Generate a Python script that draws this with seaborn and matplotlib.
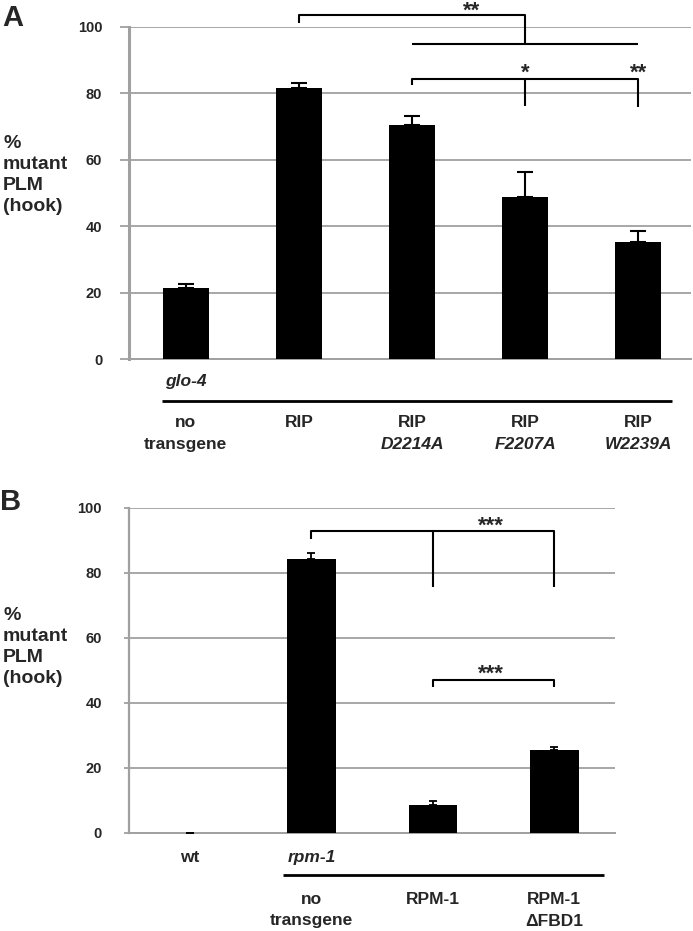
import matplotlib
matplotlib.use("Agg")
import matplotlib.pyplot as plt
import matplotlib.transforms as mtransforms
import seaborn as sns
import pandas as pd
import numpy as np

sns.set_theme(style="white")
plt.rcParams["font.family"] = ["Liberation Sans", "DejaVu Sans"]
plt.rcParams["font.weight"] = "bold"

# ---------------- data: panel A ----------------
a_line1 = ["no", "RIP", "RIP", "RIP", "RIP"]
a_line2 = ["transgene", "", "D2214A", "F2207A", "W2239A"]
a_line2_italic = [False, False, True, True, True]
a_genotype = ["glo-4", "", "", "", ""]
a_values = [21.5, 81.5, 70.4, 48.8, 35.2]
a_errors = [1.3, 1.7, 2.7, 7.5, 3.3]
a_yticks = [0, 20, 40, 60, 80, 100]

# ---------------- data: panel B ----------------
b_line1 = ["", "no", "RPM-1", "RPM-1"]
b_line2 = ["", "transgene", "", "\u0394FBD1"]
b_genotype = ["wt", "rpm-1", "", ""]
b_genotype_italic = [False, True, False, False]
b_values = [0.0, 84.2, 8.5, 25.4]
b_errors = [0.0, 1.8, 1.2, 1.0]
b_yticks = [0, 20, 40, 60, 80, 100]

W, H = 693, 931
fig = plt.figure(figsize=(W / 100, H / 100), dpi=100)

def fy(py):
    return 1 - py / H

GRID = "#a0a0a0"

def style_axes(ax, yticks, ticklen, pad, spine_lw):
    ax.set_ylim(0, 100)
    ax.set_yticks(yticks)
    ax.set_yticklabels([str(t) for t in yticks])
    ax.yaxis.grid(True, color=GRID, lw=1.3)
    ax.xaxis.grid(False)
    ax.set_axisbelow(True)
    for s in ["top", "right"]:
        ax.spines[s].set_visible(False)
    ax.spines["left"].set_color(GRID)
    ax.spines["left"].set_linewidth(spine_lw)
    ax.spines["bottom"].set_color(GRID)
    ax.spines["bottom"].set_linewidth(1.4)
    ax.tick_params(axis="x", length=0, labelbottom=False)
    ax.tick_params(axis="y", length=ticklen, width=1.3, color=GRID,
                   pad=pad, labelsize=10.5, left=True)
    ax.set_xlabel("")
    ax.set_ylabel("")

def draw_bars(ax, names, values, errors, width, capsize, elw):
    df = pd.DataFrame({"cond": names, "value": values})
    sns.barplot(data=df, x="cond", y="value", order=names, color="black",
                saturation=1, width=width, errorbar=None, ax=ax, zorder=3,
                edgecolor="black", linewidth=0)
    xs = np.arange(len(values))
    ax.errorbar(xs, values, yerr=[np.zeros(len(errors)), errors], fmt="none",
                ecolor="black", elinewidth=elw, capsize=capsize, capthick=elw,
                zorder=4)

def bracket(ax, pts, lw=1.5):
    xs, ys = zip(*pts)
    ax.plot(xs, ys, color="black", lw=lw, clip_on=False, solid_capstyle="butt",
            zorder=5)

STAR = 16

# ================= Panel A =================
axA = fig.add_axes([129.3 / W, fy(359.3), (691.3 - 129.3) / W, (359.3 - 27) / H])
a_names = [(l1 + " " + l2).strip() for l1, l2 in zip(a_line1, a_line2)]
draw_bars(axA, a_names, a_values, a_errors, 0.41, 5.8, 1.5)
style_axes(axA, a_yticks, 6.5, 13, 2.2)
axA.set_xlim(-0.5, 4.47)

# significance brackets A
bracket(axA, [(1, 101.3), (1, 103.5), (3, 103.5), (3, 95.0)])
bracket(axA, [(2, 95.0), (4, 95.0)])
axA.text(2.53, 103.2, "**", ha="center", va="baseline", fontsize=STAR,
         clip_on=False)
bracket(axA, [(2, 82.5), (2, 84.35), (4, 84.35), (4, 76.0)])
bracket(axA, [(3, 84.35), (3, 76.2)])
axA.text(3, 84.3, "*", ha="center", va="baseline", fontsize=STAR, clip_on=False)
axA.text(4, 84.3, "**", ha="center", va="baseline", fontsize=STAR, clip_on=False)

tA = mtransforms.blended_transform_factory(axA.transData, fig.transFigure)
for i, g in enumerate(a_genotype):
    if g:
        axA.text(i, fy(381.7), g, transform=tA, ha="center", va="center",
                 fontsize=12.5, style="italic")
axA.plot([-0.21, 4.3], [fy(401), fy(401)], transform=tA, color="black",
         lw=2, clip_on=False, solid_capstyle="butt")
for i, (l1, l2, it) in enumerate(zip(a_line1, a_line2, a_line2_italic)):
    axA.text(i, fy(422.7), l1, transform=tA, ha="center", va="center",
             fontsize=12.5)
    if l2:
        axA.text(i, fy(444.3), l2, transform=tA, ha="center", va="center",
                 fontsize=12.5, style="italic" if it else "normal")

fig.text(3 / W, fy(175), "%\nmutant\nPLM\n(hook)", ha="left", va="center",
         fontsize=14, linespacing=1.3)
fig.text(2 / W, fy(18.5), "A", ha="left", va="center", fontsize=21)

# ================= Panel B =================
axB = fig.add_axes([129.3 / W, fy(832.7), (615 - 129.3) / W, (832.7 - 507.7) / H])
b_names = [(g + " " + l1 + " " + l2).strip()
           for g, l1, l2 in zip(b_genotype, b_line1, b_line2)]
draw_bars(axB, b_names, b_values, b_errors, 0.4, 3.2, 1.3)
style_axes(axB, b_yticks, 3.6, 16, 1.6)
axB.set_xlim(-0.5, 3.5)

bracket(axB, [(1, 90.5), (1, 92.8), (3, 92.8), (3, 75.7)])
bracket(axB, [(2, 92.8), (2, 75.7)])
axB.text(2.48, 92.6, "***", ha="center", va="baseline", fontsize=STAR,
         clip_on=False)
bracket(axB, [(2, 44.7), (2, 47.0), (3, 47.0), (3, 44.7)])
axB.text(2.48, 47.1, "***", ha="center", va="baseline", fontsize=STAR,
         clip_on=False)

tB = mtransforms.blended_transform_factory(axB.transData, fig.transFigure)
for i, (g, it) in enumerate(zip(b_genotype, b_genotype_italic)):
    if g:
        axB.text(i, fy(857.7), g, transform=tB, ha="center", va="center",
                 fontsize=12.5, style="italic" if it else "normal")
axB.plot([0.765, 3.41], [fy(875.3), fy(875.3)], transform=tB, color="black",
         lw=2, clip_on=False, solid_capstyle="butt")
for i, (l1, l2) in enumerate(zip(b_line1, b_line2)):
    if l1:
        axB.text(i, fy(899.3), l1, transform=tB, ha="center", va="center",
                 fontsize=12.5)
    if l2:
        axB.text(i, fy(921), l2, transform=tB, ha="center", va="center",
                 fontsize=12.5)

fig.text(3 / W, fy(647.3), "%\nmutant\nPLM\n(hook)", ha="left", va="center",
         fontsize=14, linespacing=1.3)
fig.text(0 / W, fy(502), "B", ha="left", va="center", fontsize=21)

fig.savefig("out.png", dpi=100)
